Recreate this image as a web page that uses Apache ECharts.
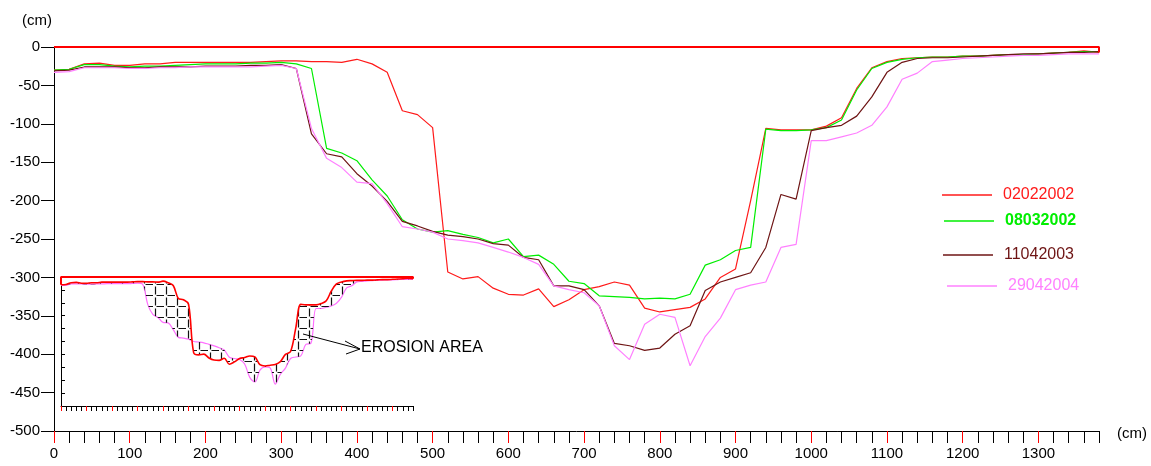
<!DOCTYPE html>
<html>
<head>
<meta charset="utf-8">
<script src="https://cdn.jsdelivr.net/npm/echarts@6/dist/echarts.min.js"></script>
<style>
  html, body { margin: 0; padding: 0; background: #fff; }
  #chart { width: 1151px; height: 466px; }
</style>
</head>
<body>
<div id="chart"></div>
<script>
// Cross-section stations along the transect (cm)
const stations = [0,20,40,60,80,100,120,140,160,180,200,220,240,260,280,300,320,340,360,380,
  400,420,440,460,480,500,520,540,560,580,600,620,640,660,680,700,720,740,760,780,
  800,820,840,860,880,900,920,940,960,980,1000,1020,1040,1060,1080,1100,1120,1140,1160,1180,
  1200,1220,1240,1260,1280,1300,1320,1340,1360,1380];

// Bed level of each survey (cm)
const survey02022002 = [-30,-29,-22,-21,-24,-24,-22,-22,-20,-20,-20,-20,-20,-20,-19,-18,-18,-19,-19,-20,
  -16,-22,-33,-83,-88,-105,-293,-302,-299,-314,-322,-323,-315,-338,-329,-316,-312,-306,-310,-340,
  -345,-342,-339,-328,-300,-289,-200,-106,-108,-108,-108,-103,-92,-54,-27,-19,-15,-14,-13,-13,
  -12,-12,-11,-10,-10,-9,-8,-7,-5,-7];
const survey08032002 = [-30,-29,-23,-23,-25,-26,-25,-25,-24,-23,-22,-22,-22,-21,-21,-20,-22,-28,-132,-138,
  -148,-173,-194,-225,-237,-241,-239,-244,-248,-255,-250,-273,-271,-283,-305,-308,-324,-325,-326,-328,
  -327,-328,-322,-284,-277,-265,-261,-107,-109,-109,-108,-105,-95,-56,-28,-20,-16,-14,-13,-13,
  -12,-12,-11,-10,-10,-9,-8,-7,-6,-6];
const survey11042003 = [-31,-30,-26,-26,-26,-27,-27,-26,-26,-26,-25,-25,-25,-24,-24,-23,-28,-113,-139,-143,
  -165,-181,-201,-227,-233,-240,-245,-247,-250,-256,-258,-274,-277,-311,-311,-316,-337,-386,-389,-395,
  -392,-374,-363,-317,-306,-300,-294,-261,-192,-198,-109,-105,-102,-90,-65,-33,-20,-15,-14,-14,
  -13,-12,-11,-10,-9,-9,-8,-7,-7,-6];
const survey29042004 = [-33,-32,-27,-27,-27,-28,-28,-27,-27,-26,-26,-26,-26,-26,-25,-24,-28,-106,-145,-157,
  -176,-178,-204,-234,-237,-241,-250,-252,-255,-261,-267,-274,-283,-311,-316,-320,-337,-389,-407,-361,
  -348,-352,-415,-377,-353,-316,-310,-306,-261,-257,-122,-122,-117,-112,-102,-78,-42,-34,-19,-17,
  -15,-14,-13,-12,-11,-11,-10,-9,-9,-9];

// Original ground surface outline
const surfaceX = [0, 1380, 1380];
const surfaceY = [0, 0, -7];
const surfaceInsetX = [0, 0, 1380, 1380];
const surfaceInsetY = [-30, 0, 0, -7];

// Axis tick values
const majorTicksX = [0,100,200,300,400,500,600,700,800,900,1000,1100,1200,1300];

const surveyNames = ['02022002', '08032002', '11042003', '29042004'];
const surveyColors = ['#ff1a1a', '#00ee00', '#6e1414', '#ff80ff'];
const surveys = [survey02022002, survey08032002, survey11042003, survey29042004];

const FONT = 'Liberation Sans, Arial, sans-serif';
const pts = ys => stations.map((x, i) => [x, ys[i]]);
const zip = (xs, ys) => xs.map((x, i) => [x, ys[i]]);

// Hatch pattern for the eroded area
const hatch = document.createElement('canvas');
hatch.width = 11; hatch.height = 11;
const hg = hatch.getContext('2d');
hg.strokeStyle = '#111';
hg.lineWidth = 1.2;
hg.beginPath();
hg.moveTo(1.5, 0.5); hg.lineTo(1.5, 8.5);
hg.moveTo(2.5, 9.5); hg.lineTo(10, 9.5);
hg.stroke();

const chart = echarts.init(document.getElementById('chart'), null, { renderer: 'canvas' });

const tickLine = (color, width) => ({ color, width: width || 1 });

const mainSeries = surveys.map((ys, i) => ({
  name: surveyNames[i],
  type: 'line',
  xAxisIndex: 0, yAxisIndex: 0,
  data: pts(ys),
  symbol: 'none',
  color: surveyColors[i],
  lineStyle: { color: surveyColors[i], width: 1.2 },
  z: 3 + i
}));

const legends = [
  { name: surveyNames[0], left: 942, top: 186, bold: false },
  { name: surveyNames[1], left: 944, top: 212, bold: true },
  { name: surveyNames[2], left: 943, top: 246, bold: false },
  { name: surveyNames[3], left: 947, top: 277, bold: false }
].map((l, i) => ({
  data: [l.name],
  left: l.left, top: l.top,
  orient: 'horizontal',
  padding: 0,
  icon: 'rect',
  itemWidth: 50, itemHeight: 1.5,
  selectedMode: false,
  textStyle: {
    color: surveyColors[i], fontFamily: FONT, fontSize: 16,
    fontWeight: l.bold ? 'bold' : 'normal', lineHeight: 18,
    padding: [0, 0, 0, 6]
  }
}));

const option = {
  animation: false,
  backgroundColor: '#fff',
  legend: legends,
  grid: [
    { left: 54, right: 52, top: 47, bottom: 35 },
    { left: 61, top: 277, width: 352, height: 129 }
  ],
  xAxis: [
    { // main axis, 20 cm ticks
      type: 'value', gridIndex: 0, position: 'bottom', min: 0, max: 1380, interval: 20,
      axisLine: { show: true, onZero: false, lineStyle: tickLine('#000') },
      axisTick: { show: true, length: 12, lineStyle: tickLine('#000') },
      axisLabel: { show: false },
      splitLine: { show: false },
      name: '(cm)', nameLocation: 'end', nameGap: 18,
      nameTextStyle: { color: '#000', fontFamily: FONT, fontSize: 15, verticalAlign: 'top', padding: [-5, 0, 0, 0] }
    },
    { // main axis, 100 cm ticks and labels
      type: 'value', gridIndex: 0, position: 'bottom', min: 0, max: 1380,
      axisLine: { show: false, onZero: false },
      axisTick: { show: true, length: 12, customValues: majorTicksX, lineStyle: tickLine('#ff0000') },
      axisLabel: { show: true, customValues: majorTicksX, margin: 15, color: '#000',
        fontFamily: FONT, fontSize: 15, formatter: v => String(v) },
      splitLine: { show: false }
    },
    { // inset axis, 20 cm ticks
      type: 'value', gridIndex: 1, position: 'bottom', min: 0, max: 1380, interval: 20,
      axisLine: { show: true, onZero: false, lineStyle: tickLine('#000') },
      axisTick: { show: true, length: 5, lineStyle: tickLine('#000') },
      axisLabel: { show: false },
      splitLine: { show: false }
    },
    { // inset axis, 100 cm ticks
      type: 'value', gridIndex: 1, position: 'bottom', min: 0, max: 1380,
      axisLine: { show: false, onZero: false },
      axisTick: { show: true, length: 5, customValues: majorTicksX, lineStyle: tickLine('#ff0000') },
      axisLabel: { show: false },
      splitLine: { show: false }
    },
    { // inset station axis used by the stacked erosion band
      type: 'category', gridIndex: 1, position: 'bottom', data: stations, boundaryGap: false,
      show: false
    }
  ],
  yAxis: [
    {
      type: 'value', gridIndex: 0, min: -500, max: 0, interval: 50,
      axisLine: { show: true, onZero: false, lineStyle: tickLine('#000') },
      axisTick: { show: true, length: 13, lineStyle: tickLine('#000') },
      axisLabel: { margin: 14, color: '#000', fontFamily: FONT, fontSize: 15 },
      splitLine: { show: false },
      name: '(cm)', nameLocation: 'end', nameGap: 26,
      nameTextStyle: { color: '#000', fontFamily: FONT, fontSize: 15, align: 'right', verticalAlign: 'middle', padding: [0, 2, 0, 0] }
    },
    {
      type: 'value', gridIndex: 1, min: -500, max: 0, interval: 50,
      axisLine: { show: true, onZero: false, lineStyle: tickLine('#000') },
      axisTick: { show: true, inside: true, length: 4, lineStyle: tickLine('#000') },
      axisLabel: { show: false },
      splitLine: { show: false }
    }
  ],
  series: [
    {
      name: 'surface', type: 'line', xAxisIndex: 0, yAxisIndex: 0,
      data: zip(surfaceX, surfaceY), symbol: 'none',
      lineStyle: { color: '#ff0000', width: 2 }, z: 8
    },
    ...mainSeries,
    // Inset: erosion band between the first and the last survey
    {
      name: 'inset 29042004', type: 'line', xAxisIndex: 4, yAxisIndex: 1,
      data: survey29042004, symbol: 'none', smooth: 0.35,
      stack: 'erosion', stackStrategy: 'all',
      lineStyle: { color: '#ff70ff', width: 1.2 }, z: 10
    },
    {
      name: 'inset 02022002', type: 'line', xAxisIndex: 4, yAxisIndex: 1,
      data: survey02022002.map((v, i) => v - survey29042004[i]),
      symbol: 'none', smooth: 0.35,
      stack: 'erosion', stackStrategy: 'all',
      lineStyle: { color: '#ff0000', width: 1.6 },
      areaStyle: { color: { image: hatch, repeat: 'repeat' }, opacity: 1 },
      z: 11
    },
    {
      name: 'inset surface', type: 'line', xAxisIndex: 2, yAxisIndex: 1,
      data: zip(surfaceInsetX, surfaceInsetY), symbol: 'none',
      lineStyle: { color: '#ff0000', width: 2 }, z: 12
    }
  ],
  graphic: [
    {
      type: 'polyline', z: 20,
      shape: { points: [[303, 334], [360, 349]] },
      style: { stroke: '#000', lineWidth: 1, fill: null }
    },
    {
      type: 'polyline', z: 20,
      shape: { points: [[345, 341], [360, 349], [346, 354]] },
      style: { stroke: '#000', lineWidth: 1, fill: null }
    },
    {
      type: 'text', z: 20, left: 361, top: 340,
      style: { text: 'EROSION AREA', fill: '#000', font: '16px ' + FONT }
    }
  ]
};

chart.setOption(option);
</script>
</body>
</html>
